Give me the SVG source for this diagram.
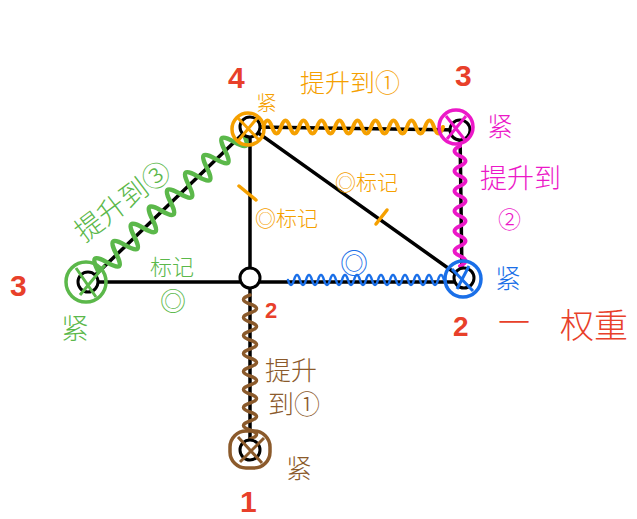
<svg xmlns="http://www.w3.org/2000/svg" width="637" height="519" viewBox="0 0 637 519">
<style>
.edge{stroke:#000;stroke-width:3.5;fill:none;stroke-linecap:round}
.node{fill:#fff;stroke:#000;stroke-width:3}
.wave{fill:none;stroke-linecap:round;stroke-linejoin:round}
.t{font-family:"Noto Sans CJK SC","Noto Sans",sans-serif;font-weight:300}
.num{font-family:"Liberation Sans","Noto Sans",sans-serif;font-weight:bold;fill:#e8402a}
.mg{fill:#ec18c8}
.bl{fill:#1a6fe8}
.gr{fill:#5bb84a}
.br{fill:#8b5a2b}
</style>
<rect width="637" height="519" fill="#fff"/>
<g id="connectors">
  <line class="edge" x1="250" y1="127" x2="460" y2="130"/>
  <line class="edge" x1="250" y1="127" x2="250" y2="280"/>
  <line class="edge" x1="250" y1="127" x2="462" y2="278"/>
  <line class="edge" x1="460" y1="130" x2="462" y2="278"/>
  <line class="edge" x1="250" y1="282" x2="462" y2="282"/>
  <line class="edge" x1="88" y1="282" x2="250" y2="282"/>
  <line class="edge" x1="250" y1="280" x2="250" y2="452"/>
  <line class="edge" x1="88" y1="282" x2="250" y2="127"/>
  <!-- orange wave A-B -->
  <path class="wave" stroke="#f5a000" stroke-width="4" d="M263 127 q4.5 -13 9 0 t9 0 t9 0 t9 0 t9 0 t9 0 t9 0 t9 0 t9 0 t9 0 t9 0 t9 0 t9 0 t9 0 t9 0 t9 0 t9 0 t9 0 t9 0 t9 0"/>
  <!-- green wave E-A -->
  <path class="wave" stroke="#5bb84a" stroke-width="4.5" transform="translate(98 271) rotate(-43.5)" d="M0 0 q6.25 -22 12.5 0 t12.5 0 t12.5 0 t12.5 0 t12.5 0 t12.5 0 t12.5 0 t12.5 0 t12.5 0 t12.5 0 t12.5 0 t12.5 0 t12.5 0 t12.5 0 t12.5 0 t12.5 0"/>
  <!-- magenta wave B-C -->
  <path class="wave" stroke="#ec18c8" stroke-width="4" d="M460 146 q-11 5 0 10 t0 10 t0 10 t0 10 t0 10 t0 10 t0 10 t0 10 t0 10 t0 10 t0 10 t0 10"/>
  <!-- blue wave D-C -->
  <path class="wave" stroke="#1a6fe8" stroke-width="2.5" d="M288 280 q3 10 6 0 t6 0 t6 0 t6 0 t6 0 t6 0 t6 0 t6 0 t6 0 t6 0 t6 0 t6 0 t6 0 t6 0 t6 0 t6 0 t6 0 t6 0 t6 0 t6 0 t6 0 t6 0 t6 0 t6 0 t6 0 t6 0"/>
  <!-- brown wave D-F -->
  <path class="wave" stroke="#8b5a2b" stroke-width="3.5" d="M250 295 q-13 4.5 0 9 t0 9 t0 9 t0 9 t0 9 t0 9 t0 9 t0 9 t0 9 t0 9 t0 9 t0 9 t0 9 t0 9 t0 9 t0 9"/>
  <!-- ticks -->
  <line x1="239" y1="186" x2="256" y2="200" stroke="#f5a000" stroke-width="3.5" stroke-linecap="round"/>
  <line x1="376" y1="224" x2="387" y2="210" stroke="#f5a000" stroke-width="3.5" stroke-linecap="round"/>
</g>
<g id="node-A">
  <circle class="node" cx="250" cy="127" r="10"/>
  <circle cx="248" cy="129" r="16" fill="none" stroke="#f5a000" stroke-width="3.5"/>
  <path d="M238 118 L259 140 M258 117 L238 141" stroke="#f5a000" stroke-width="3" fill="none"/>
  <text class="num" x="228" y="88" font-size="30">4</text>
  <text class="t" x="256" y="110" font-size="21" fill="#f5a000">紧</text>
</g>
<g id="node-B">
  <circle class="node" cx="460" cy="130" r="10"/>
  <circle cx="456" cy="127" r="17" fill="none" stroke="#ec18c8" stroke-width="3.5"/>
  <path d="M446 116 L465 140 M466 116 L447 139" stroke="#ec18c8" stroke-width="3" fill="none"/>
  <text class="num" x="455" y="86" font-size="30">3</text>
  <text class="t mg" x="487" y="136" font-size="26">紧</text>
</g>
<g id="node-C">
  <circle class="node" cx="464" cy="278" r="10"/>
  <circle cx="463" cy="279" r="18" fill="none" stroke="#1a6fe8" stroke-width="3.5"/>
  <path d="M452 269 L473 291 M469 266 L457 289" stroke="#1a6fe8" stroke-width="3" fill="none"/>
  <text class="t bl" x="495" y="288" font-size="26">紧</text>
  <text class="num" x="453" y="336" font-size="28">2</text>
  <text class="t" x="498" y="334" font-size="32" fill="#e8402a" font-weight="400">一</text>
  <text class="t" x="560" y="338" font-size="34" fill="#e8402a" font-weight="400">权重</text>
</g>
<g id="node-D">
  <circle class="node" cx="250" cy="278" r="10"/>
  <text class="num" x="265" y="318" font-size="22">2</text>
</g>
<g id="node-E">
  <circle class="node" cx="88" cy="282" r="10"/>
  <circle cx="86" cy="282" r="20" fill="none" stroke="#5bb84a" stroke-width="3.5"/>
  <path d="M76 268 L96 297 M105 265 L80 295" stroke="#5bb84a" stroke-width="3" fill="none"/>
  <text class="num" x="10" y="296" font-size="30">3</text>
  <text class="t gr" x="61" y="339" font-size="28">紧</text>
</g>
<g id="node-F">
  <circle class="node" cx="250" cy="450" r="10"/>
  <rect x="230" y="431" width="40" height="37" rx="16" fill="none" stroke="#8b5a2b" stroke-width="3.5"/>
  <path d="M238 437 L262 463 M264 438 L240 462" stroke="#8b5a2b" stroke-width="3" fill="none"/>
  <text class="t br" x="286" y="478" font-size="26">紧</text>
  <text class="num" x="240" y="512" font-size="30">1</text>
</g>
<g id="labels">
  <text class="t" x="300" y="92" font-size="25" fill="#f5a000">提升到①</text>
  <text class="t gr" font-size="28" transform="translate(84 243) rotate(-37)">提升到③</text>
  <text class="t gr" x="150" y="275" font-size="22">标记</text>
  <text class="t gr" x="160" y="311" font-size="26">◎</text>
  <text class="t" x="255" y="226" font-size="21" fill="#f5a000">◎标记</text>
  <text class="t" x="335" y="190" font-size="21" fill="#f5a000">◎标记</text>
  <text class="t bl" x="340" y="274" font-size="28">◎</text>
  <text class="t mg" x="480" y="188" font-size="27">提升到</text>
  <text class="t mg" x="498" y="228" font-size="23">②</text>
  <text class="t br" x="265" y="380" font-size="26">提升</text>
  <text class="t br" x="268" y="414" font-size="26">到①</text>
</g>
</svg>
